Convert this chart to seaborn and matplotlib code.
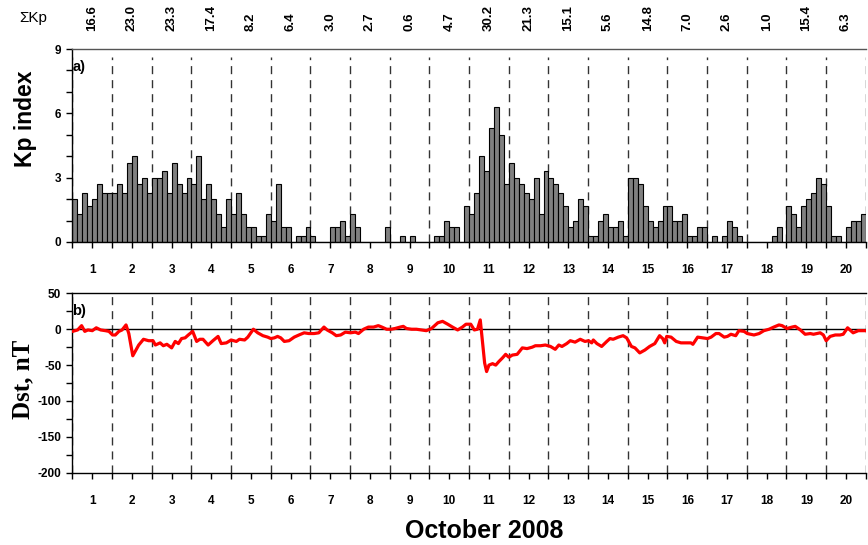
import numpy as np
import matplotlib
matplotlib.use("Agg")
import matplotlib.pyplot as plt
from matplotlib.ticker import MultipleLocator, FixedLocator
import seaborn as sns

# 3-hourly Kp index, 1-20 October 2008 (8 values per day)
kp_day01 = [2.0, 1.3, 2.3, 1.7, 2.0, 2.7, 2.3, 2.3]
kp_day02 = [2.3, 2.7, 2.3, 3.7, 4.0, 2.7, 3.0, 2.3]
kp_day03 = [3.0, 3.0, 3.3, 2.3, 3.7, 2.7, 2.3, 3.0]
kp_day04 = [2.7, 4.0, 2.0, 2.7, 2.0, 1.3, 0.7, 2.0]
kp_day05 = [1.3, 2.3, 1.3, 0.7, 0.7, 0.3, 0.3, 1.3]
kp_day06 = [1.0, 2.7, 0.7, 0.7, 0.0, 0.3, 0.3, 0.7]
kp_day07 = [0.3, 0.0, 0.0, 0.0, 0.7, 0.7, 1.0, 0.3]
kp_day08 = [1.3, 0.7, 0.0, 0.0, 0.0, 0.0, 0.0, 0.7]
kp_day09 = [0.0, 0.0, 0.3, 0.0, 0.3, 0.0, 0.0, 0.0]
kp_day10 = [0.0, 0.3, 0.3, 1.0, 0.7, 0.7, 0.0, 1.7]
kp_day11 = [1.3, 2.3, 4.0, 3.3, 5.3, 6.3, 5.0, 2.7]
kp_day12 = [3.7, 3.0, 2.7, 2.3, 2.0, 3.0, 1.3, 3.3]
kp_day13 = [3.0, 2.7, 2.3, 1.7, 0.7, 1.0, 2.0, 1.7]
kp_day14 = [0.3, 0.3, 1.0, 1.3, 0.7, 0.7, 1.0, 0.3]
kp_day15 = [3.0, 3.0, 2.7, 1.7, 1.0, 0.7, 1.0, 1.7]
kp_day16 = [1.7, 1.0, 1.0, 1.3, 0.3, 0.3, 0.7, 0.7]
kp_day17 = [0.0, 0.3, 0.0, 0.3, 1.0, 0.7, 0.3, 0.0]
kp_day18 = [0.0, 0.0, 0.0, 0.0, 0.0, 0.3, 0.7, 0.0]
kp_day19 = [1.7, 1.3, 0.7, 1.7, 2.0, 2.3, 3.0, 2.7]
kp_day20 = [1.7, 0.3, 0.3, 0.0, 0.7, 1.0, 1.0, 1.3]

# daily sums of Kp printed above the upper panel
sum_kp = ["16.6", "23.0", "23.3", "17.4", "8.2", "6.4", "3.0", "2.7", "0.6", "4.7",
          "30.2", "21.3", "15.1", "5.6", "14.8", "7.0", "2.6", "1.0", "15.4", "6.3"]

days = list(range(1, 21))

# Dst index: time in days since 1 October 00 UT, value in nT
dst_time = [0.00, 0.13, 0.23, 0.31, 0.39, 0.50, 0.60, 0.71, 0.83, 0.92,
            1.01, 1.08, 1.17, 1.25, 1.35, 1.42, 1.52, 1.58, 1.67, 1.79,
            1.92, 2.03, 2.09, 2.21, 2.29, 2.38, 2.50, 2.59, 2.67, 2.75,
            2.84, 2.92, 3.03, 3.13, 3.21, 3.29, 3.42, 3.54, 3.67, 3.75,
            3.88, 4.00, 4.13, 4.21, 4.34, 4.42, 4.56, 4.67, 4.80, 4.92,
            5.00, 5.09, 5.17, 5.25, 5.34, 5.46, 5.59, 5.71, 5.84, 5.96,
            6.09, 6.21, 6.34, 6.42, 6.55, 6.65, 6.76, 6.88, 7.01, 7.13,
            7.21, 7.34, 7.46, 7.59, 7.71, 7.80, 7.92, 8.03, 8.13, 8.26,
            8.34, 8.42, 8.55, 8.67, 8.80, 8.92, 9.05, 9.21, 9.33, 9.46,
            9.58, 9.71, 9.83, 9.92, 10.04, 10.13, 10.21, 10.28, 10.34, 10.39,
            10.44, 10.50, 10.59, 10.67, 10.75, 10.84, 10.92, 11.00, 11.09, 11.21,
            11.34, 11.46, 11.59, 11.67, 11.80, 11.92, 12.05, 12.17, 12.26, 12.34,
            12.46, 12.55, 12.67, 12.80, 12.92, 13.01, 13.09, 13.13, 13.22, 13.34,
            13.47, 13.55, 13.63, 13.76, 13.88, 13.97, 14.09, 14.18, 14.30, 14.43,
            14.55, 14.68, 14.80, 14.88, 14.93, 14.98, 15.09, 15.22, 15.34, 15.47,
            15.59, 15.64, 15.76, 15.89, 16.01, 16.10, 16.22, 16.30, 16.43, 16.51,
            16.60, 16.72, 16.80, 16.93, 17.01, 17.18, 17.31, 17.43, 17.56, 17.68,
            17.81, 17.89, 18.01, 18.14, 18.22, 18.35, 18.47, 18.60, 18.68, 18.77,
            18.85, 18.93, 19.00, 19.10, 19.23, 19.35, 19.43, 19.54, 19.68, 19.81,
            19.92, 20.00]
dst_nT = [-3, -1, 5, -3, -1, -2, 2, -1, -2, -3,
          -8, -8, -3, -1, 6, -6, -37, -31, -22, -14,
          -16, -16, -22, -19, -23, -21, -26, -17, -20, -13,
          -12, -8, -3, -17, -14, -14, -22, -16, -10, -20,
          -19, -15, -17, -14, -15, -11, 0, -5, -9, -11,
          -13, -12, -10, -12, -17, -16, -11, -8, -5, -6,
          -6, -5, 3, -1, -5, -9, -8, -4, -5, -4,
          -6, 0, 3, 3, 5, 3, 0, 0, 1, 3,
          4, 1, 0, 0, -1, -2, 1, 9, 11, 7,
          3, -1, 3, 7, 7, -1, 0, 13, -20, -47,
          -59, -50, -48, -50, -45, -40, -35, -39, -36, -35,
          -26, -27, -25, -23, -23, -22, -24, -28, -22, -24,
          -20, -16, -18, -14, -17, -16, -19, -15, -20, -24,
          -17, -13, -14, -11, -9, -12, -24, -26, -33, -29,
          -24, -20, -9, -13, -19, -10, -11, -17, -19, -19,
          -19, -21, -11, -12, -13, -11, -6, -6, -11, -10,
          -7, -9, -2, -3, -6, -8, -6, -2, 0, 3,
          6, 5, 1, 3, 4, -1, -7, -6, -7, -6,
          -5, -8, -16, -10, -8, -8, -7, 2, -5, -2,
          -2, -2]

kp_all = (kp_day01 + kp_day02 + kp_day03 + kp_day04 + kp_day05 + kp_day06 + kp_day07
          + kp_day08 + kp_day09 + kp_day10 + kp_day11 + kp_day12 + kp_day13 + kp_day14
          + kp_day15 + kp_day16 + kp_day17 + kp_day18 + kp_day19 + kp_day20)
kp_time = np.arange(len(kp_all)) * 0.125 + 0.0625   # centre of each 3-h interval, days

sns.set_theme(style="ticks")
plt.rcParams["font.family"] = ["Liberation Sans", "DejaVu Sans"]
plt.rcParams["font.weight"] = "bold"
plt.rcParams["axes.unicode_minus"] = False
plt.rcParams["text.color"] = "black"
plt.rcParams["axes.labelcolor"] = "black"
plt.rcParams["xtick.color"] = "black"
plt.rcParams["ytick.color"] = "black"

fig = plt.figure(figsize=(8.68, 5.45), dpi=100)
ax1 = fig.add_axes([0.0835, 0.556, 0.914, 0.354])
ax2 = fig.add_axes([0.0835, 0.1327, 0.914, 0.329])

# upper panel: Kp bars
sns.barplot(x=kp_time, y=kp_all, native_scale=True, width=1.0, color="#808080",
            saturation=1, edgecolor="black", linewidth=0.8, errorbar=None, ax=ax1)

# lower panel: Dst curve
ax2.axhline(0, color="black", lw=1.0, zorder=1)
sns.lineplot(x=dst_time, y=dst_nT, color="#ff0000", lw=2.3, ax=ax2, zorder=3)

tick_pos = np.arange(0, 20.01, 0.5)
tick_lab = [str(int(t + 0.5)) if (t % 1) == 0.5 else "" for t in tick_pos]

for ax in (ax1, ax2):
    ax.set_xlim(0, 20)
    ax.xaxis.set_major_locator(FixedLocator(tick_pos))
    ax.set_xticklabels(tick_lab)
    ax.tick_params(axis="x", direction="out", length=4, width=1, pad=12,
                   labelsize=8.5, colors="black", labelcolor="black")
    ax.tick_params(axis="y", which="both", direction="out", length=4, width=1,
                   pad=4, labelsize=8.5, colors="black", labelcolor="black")
    for lab in ax.get_xticklabels() + ax.get_yticklabels():
        lab.set_fontweight("bold")
    ax.spines["right"].set_visible(False)
    for s in ("left", "bottom", "top"):
        ax.spines[s].set_color("black")
        ax.spines[s].set_linewidth(1.0)
    ax.set_xlabel("")
    ax.set_ylabel("")

ax1.spines["top"].set_color("#555555")

for d in range(0, 21):
    ax1.axvline(d, ymin=0, ymax=0.96, color="#333333", lw=1.0,
                dashes=(5.8, 4.3), zorder=0)
    ax2.axvline(d, color="#333333", lw=1.0, dashes=(5.8, 4.3), zorder=0)

ax1.set_ylim(0, 9)
ax1.set_yticks([0, 3, 6, 9])
ax1.yaxis.set_minor_locator(MultipleLocator(1))

ax2.set_ylim(-200, 50)
ax2.set_yticks(np.arange(-200, 51, 50))
ax2.yaxis.set_minor_locator(MultipleLocator(25))

# daily Kp sums above the upper panel
for d, s in zip(days, sum_kp):
    ax1.text(d - 0.5, 1.093, s, transform=ax1.get_xaxis_transform(), rotation=90,
             ha="center", va="bottom", fontsize=9.5, fontweight="bold", color="black")

fig.text(0.022, 0.967, "ΣKp", ha="left", va="center", fontsize=11,
         fontweight="normal", color="black")
ax1.text(0.0, 0.907, "a)", transform=ax1.transAxes, ha="left", va="center",
         fontsize=10.5, fontweight="bold", color="black")
ax2.text(0.0, 0.901, "b)", transform=ax2.transAxes, ha="left", va="center",
         fontsize=10.5, fontweight="bold", color="black")

fig.text(0.029, 0.782, "Kp index", rotation=90, ha="center", va="center",
         fontsize=16.5, fontweight="bold", color="black")
fig.text(0.026, 0.303, "Dst, nT", rotation=90, ha="center", va="center",
         fontsize=18, fontweight="bold", color="black",
         family=["Liberation Serif", "DejaVu Serif"])
fig.text(0.5576, 0.026, "October 2008", ha="center", va="center",
         fontsize=18, fontweight="bold", color="black")

fig.savefig("out.png", dpi=100)
